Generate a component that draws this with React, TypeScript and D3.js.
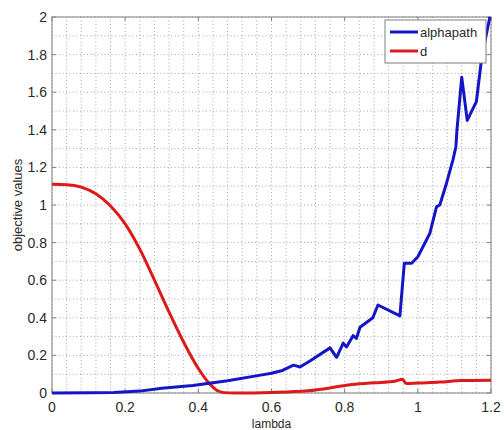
import React from "react";
import * as d3 from "d3";

const xTicks = [0, 0.2, 0.4, 0.6, 0.8, 1, 1.2];
const yTicks = [0, 0.2, 0.4, 0.6, 0.8, 1, 1.2, 1.4, 1.6, 1.8, 2];

const dX = [0, 0.04, 0.08, 0.12, 0.16, 0.2, 0.24, 0.28, 0.32, 0.36, 0.4, 0.43, 0.45, 0.47, 0.5, 0.6, 0.7, 0.76, 0.81, 0.88, 0.94, 0.958, 0.968, 1.0, 1.06, 1.12, 1.2];
const dY = [1.11, 1.108, 1.095, 1.06, 0.995, 0.9, 0.765, 0.6, 0.43, 0.27, 0.13, 0.05, 0.015, 0.002, 0, 0.003, 0.012, 0.027, 0.043, 0.054, 0.064, 0.073, 0.05, 0.053, 0.058, 0.066, 0.068];

const aX = [0, 0.1, 0.17, 0.24, 0.3, 0.385, 0.48, 0.57, 0.6, 0.63, 0.66, 0.678, 0.705, 0.76, 0.778, 0.796, 0.805, 0.823, 0.832, 0.842, 0.877, 0.891, 0.951, 0.963, 0.983, 1.0, 1.033, 1.051, 1.06, 1.079, 1.096, 1.104, 1.107, 1.12, 1.135, 1.16, 1.175, 1.197];
const aY = [0, 0.001, 0.003, 0.01, 0.025, 0.04, 0.065, 0.095, 0.105, 0.12, 0.148, 0.138, 0.17, 0.24, 0.19, 0.265, 0.245, 0.305, 0.29, 0.35, 0.4, 0.468, 0.41, 0.69, 0.69, 0.725, 0.85, 0.99, 1.0, 1.12, 1.24, 1.31, 1.4, 1.68, 1.45, 1.55, 1.79, 2.0];

const seriesNames = ["alphapath", "d"];

export default function App() {
  const W = 504, H = 430;
  const L = 52, R = 491, T = 17, B = 393;
  const x = d3.scaleLinear().domain([0, 1.2]).range([L, R]);
  const y = d3.scaleLinear().domain([0, 2]).range([B, T]);
  const xMinor = d3.range(0, 1.2001, 0.04);
  const yMinor = d3.range(0, 2.0001, 0.1);
  const lineLin = d3.line<number>().x((_, i) => x(aX[i])).y((v) => y(v));
  const lineRed = d3.line<number>().x((_, i) => x(dX[i])).y((v) => y(v)).curve(d3.curveMonotoneX);
  const font = "'Liberation Sans', Arial, sans-serif";
  const axisCol = "#808080";
  const textCol = "#2a2a2a";
  return (
    <svg width={W} height={H} style={{ position: "absolute", left: 0, top: 0, background: "#fff" }} fontFamily={font}>
      <defs>
        <clipPath id="plot">
          <rect x={L} y={T - 2} width={R - L + 2} height={B - T + 4} />
        </clipPath>
      </defs>
      <rect x={L} y={T} width={R - L} height={B - T} fill="#fff" />
      {xMinor.map((v, i) => (
        <line key={"gx" + i} x1={x(v)} x2={x(v)} y1={T} y2={B} stroke="#909090" strokeWidth={0.8} strokeDasharray="1,2.5" />
      ))}
      {yMinor.map((v, i) => (
        <line key={"gy" + i} x1={L} x2={R} y1={y(v)} y2={y(v)} stroke="#909090" strokeWidth={0.8} strokeDasharray="1,2.5" />
      ))}
      {xTicks.map((v, i) => (
        <g key={"xt" + i}>
          <line x1={x(v)} x2={x(v)} y1={B} y2={B - 4} stroke={axisCol} />
          <line x1={x(v)} x2={x(v)} y1={T} y2={T + 4} stroke={axisCol} />
          <text x={x(v)} y={B + 19} textAnchor="middle" fontSize={14} fill={textCol}>{String(v)}</text>
        </g>
      ))}
      {yTicks.map((v, i) => (
        <g key={"yt" + i}>
          <line x1={L} x2={L + 4} y1={y(v)} y2={y(v)} stroke={axisCol} />
          <line x1={R} x2={R - 4} y1={y(v)} y2={y(v)} stroke={axisCol} />
          <text x={L - 5} y={y(v) + 5} textAnchor="end" fontSize={14} fill={textCol}>{String(v)}</text>
        </g>
      ))}
      <rect x={L} y={T} width={R - L} height={B - T} fill="none" stroke={axisCol} strokeWidth={1} />
      <g clipPath="url(#plot)">
        <path d={lineRed(dY) || ""} fill="none" stroke="#dd1a1a" strokeWidth={3} strokeLinejoin="round" />
        <path d={lineLin(aY) || ""} fill="none" stroke="#1515c8" strokeWidth={3} strokeLinejoin="round" />
      </g>
      <g>
        <rect x={385} y={20} width={101} height={43} fill="#fff" stroke={axisCol} strokeWidth={1} />
        <line x1={390} x2={418} y1={32} y2={32} stroke="#1515c8" strokeWidth={3} />
        <text x={420} y={37} fontSize={13} fill={textCol}>{seriesNames[0]}</text>
        <line x1={390} x2={418} y1={51} y2={51} stroke="#dd1a1a" strokeWidth={3} />
        <text x={420} y={56} fontSize={13} fill={textCol}>{seriesNames[1]}</text>
      </g>
      <text x={(L + R) / 2} y={428} textAnchor="middle" fontSize={12} fill={textCol}>lambda</text>
      <text transform={`translate(22,${(T + B) / 2}) rotate(-90)`} textAnchor="middle" fontSize={13} fill={textCol}>objective values</text>
    </svg>
  );
}
